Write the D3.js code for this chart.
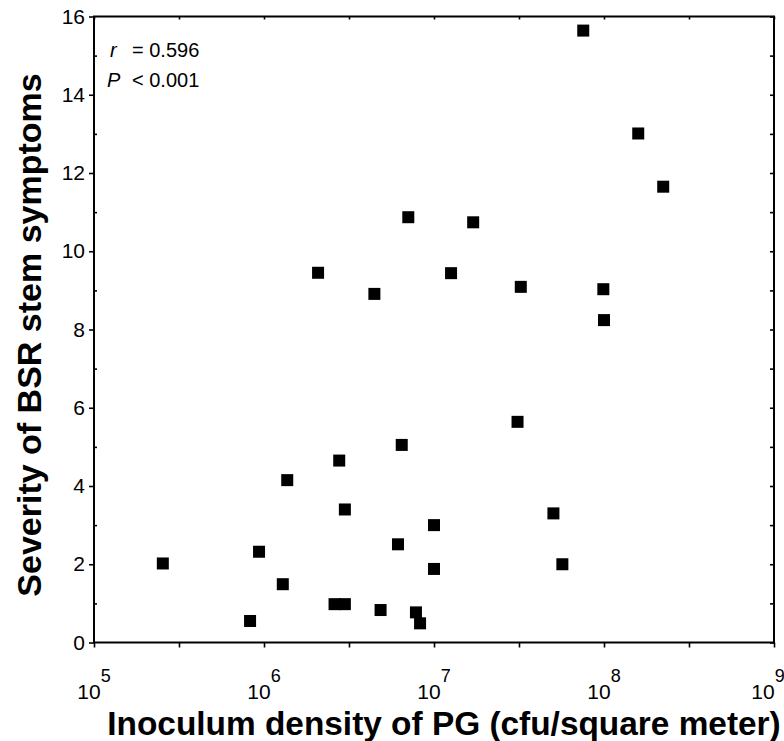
<!DOCTYPE html>
<html>
<head>
<meta charset="utf-8">
<script src="https://cdn.jsdelivr.net/npm/d3@7"></script>
<style>
    body { margin: 0; background: #fff; }
    text { font-family: "Liberation Sans", Arial, Helvetica, sans-serif; fill: #000; }
</style>
</head>
<body>
<div id="chart"></div>
<script>
// inoculum density (cfu / square meter) and BSR stem severity
const density = [2.54e5, 8.28e5, 9.35e5, 1.29e6, 1.37e6, 2.08e6, 2.60e6, 2.77e6, 2.99e6, 2.99e6,
                 4.46e6, 4.85e6, 6.14e6, 6.46e6, 7.06e6, 7.83e6, 8.28e6, 1.00e7, 1.00e7, 1.26e7,
                 1.70e7, 3.10e7, 3.24e7, 5.04e7, 5.69e7, 7.55e7, 9.91e7, 1.00e8, 1.59e8, 2.23e8];
const severity = [2.02, 0.55, 2.32, 1.49, 4.15, 9.45, 0.98, 4.65, 0.98, 3.40,
                  8.91, 0.83, 2.51, 5.05, 10.87, 0.77, 0.49, 3.00, 1.88, 9.44,
                  10.74, 5.64, 9.09, 3.30, 2.00, 15.64, 9.03, 8.24, 13.01, 11.65];

const yMajor = [0, 2, 4, 6, 8, 10, 12, 14, 16];
const yMinor = [1, 3, 5, 7, 9, 11, 13, 15];
const xDecades = [1e5, 1e6, 1e7, 1e8, 1e9];
const xExponents = ["5", "6", "7", "8", "9"];
const xTicks = [1e5, 3.162e5, 1e6, 3.162e6, 1e7, 3.162e7, 1e8, 3.162e8, 1e9];

const xTitle = "Inoculum density of PG (cfu/square meter)";
const yTitle = "Severity of BSR stem symptoms";

const width = 784, height = 741;
const plotLeft = 94, plotRight = 774, plotTop = 16.5, plotBottom = 642.5;

const svg = d3.select('#chart')
    .append('svg')
    .attr('width', width)
    .attr('height', height);

svg.append('rect').attr('width', width).attr('height', height).attr('fill', '#fff');

const x = d3.scaleLog().domain([1e5, 1e9]).range([plotLeft, plotRight]);
const y = d3.scaleLinear().domain([0, 16]).range([plotBottom, plotTop]);

// left axis: labelled ticks outside, small ones inside
const yAxis = svg.append('g')
    .attr('transform', `translate(${plotLeft},0)`)
    .call(d3.axisLeft(y).tickValues(yMajor).tickSize(5).tickPadding(4).tickFormat(d3.format('d')));
yAxis.selectAll('text').style('font-size', '21px');

svg.append('g')
    .attr('transform', `translate(${plotLeft},0)`)
    .call(d3.axisRight(y).tickValues(yMinor).tickSize(3).tickFormat(''));

// right axis, inward ticks
svg.append('g')
    .attr('transform', `translate(${plotRight},0)`)
    .call(d3.axisLeft(y).tickValues(yMajor.concat(yMinor)).tickSize(4).tickFormat(''));

// bottom axis
svg.append('g')
    .attr('transform', `translate(0,${plotBottom})`)
    .call(d3.axisBottom(x).tickValues(xTicks).tickSize(5).tickFormat(''));

// top axis, inward
svg.append('g')
    .attr('transform', `translate(0,${plotTop})`)
    .call(d3.axisBottom(x).tickValues(xTicks).tickSize(3).tickFormat(''));

svg.selectAll('.domain').remove();
svg.selectAll('.tick line').attr('stroke', '#000').attr('stroke-width', 1.6);

// frame
svg.append('rect')
    .attr('x', plotLeft).attr('y', plotTop)
    .attr('width', plotRight - plotLeft).attr('height', plotBottom - plotTop)
    .attr('fill', 'none').attr('stroke', '#000').attr('stroke-width', 2);

// 10^n labels
const xLab = svg.append('g').selectAll('text')
    .data(xDecades)
    .enter()
    .append('text')
    .attr('x', d => Math.max(86, Math.min(768, x(d))))
    .attr('y', 699)
    .attr('text-anchor', 'middle')
    .style('font-size', '21px');
xLab.append('tspan').text('10');
xLab.append('tspan')
    .attr('dy', -17)
    .style('font-size', '18px')
    .text((d, i) => xExponents[i]);

// points
svg.append('g').selectAll('rect')
    .data(density)
    .enter()
    .append('rect')
    .attr('x', (d, i) => x(d) - 6)
    .attr('y', (d, i) => y(severity[i]) - 6)
    .attr('width', 12)
    .attr('height', 12)
    .attr('fill', '#000');

// statistics
const stat1 = svg.append('text').attr('x', 110).attr('y', 57).style('font-size', '20px');
stat1.append('tspan').style('font-style', 'italic').text('r');
stat1.append('tspan').attr('x', 132).text('= 0.596');
const stat2 = svg.append('text').attr('x', 107).attr('y', 87).style('font-size', '20px');
stat2.append('tspan').style('font-style', 'italic').text('P');
stat2.append('tspan').attr('x', 132).text('< 0.001');

// axis titles
svg.append('text')
    .attr('x', 444)
    .attr('y', 735)
    .attr('text-anchor', 'middle')
    .style('font-size', '33.4px')
    .style('font-weight', 'bold')
    .text(xTitle);

svg.append('text')
    .attr('transform', 'translate(41,335) rotate(-90)')
    .attr('text-anchor', 'middle')
    .style('font-size', '34px')
    .style('font-weight', 'bold')
    .text(yTitle);
</script>
</body>
</html>
